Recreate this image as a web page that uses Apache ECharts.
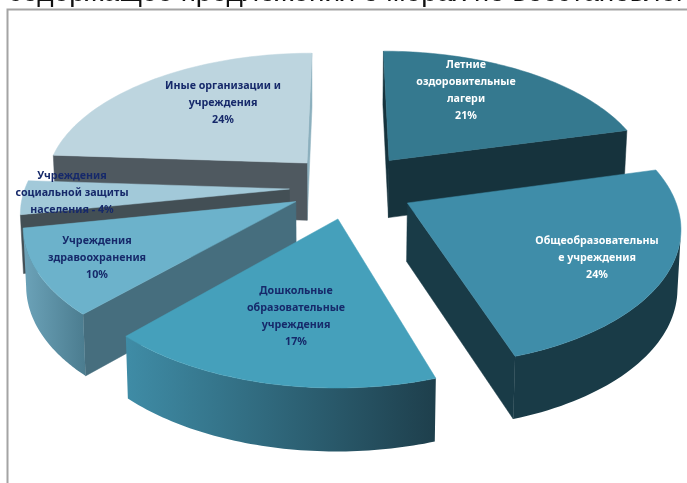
<!DOCTYPE html>
<html><head><meta charset="utf-8">
<style>html,body{margin:0;padding:0;background:#fff;overflow:hidden}#c{width:687px;height:483px}</style>
<script src="https://cdn.jsdelivr.net/npm/echarts@6/dist/echarts.min.js"></script>
</head><body><div id="c"></div>
<script>
// ---- data ----
const categories = ['Летние оздоровительные лагери','Общеобразовательные учреждения','Дошкольные образовательные учреждения','Учреждения здравоохранения','Учреждения социальной защиты населения','Иные организации и учреждения'];
const values = [21,24,17,10,4,24];
const labelLines = [
  ['Летние','оздоровительные','лагери','21%'],
  ['Общеобразовательны','е учреждения','24%'],
  ['Дошкольные','образовательные','учреждения','17%'],
  ['Учреждения','здравоохранения','10%'],
  ['Учреждения','социальной защиты','населения - 4%'],
  ['Иные организации и','учреждения','24%']
];
const headline = 'содержащее предложения о мерах по восстановлению';

// ---- view / style (not data) ----
const view = {cx:345, cy:187, rx:264, ry:133, persp:0.15, depth:58, depthPersp:0.07, lean:0.01, leanX:330};
const explode = [[.172,.206],[.232,-.118],[-.026,-.232],[-.183,-.108],[-.21,-.015],[-.148,.185]];
const topColor  = ['#35798F','#3F8DA9','#45A0BB','#6CB2CB','#A2C9D9','#BDD5DF'];
const startWall = ['#16333D','#193B47','#1E4452','#466E7E','#434F55','#4F5960'];
const endWall   = ['#16333D','#193B47','#1E4452','#466E7E','#434F55','#8CB0BE'];
const sideStops = [['#16333D','#16333D'],['#193B47','#193B47'],['#3F8CA6','#1E3F4C'],['#6CA3B9','#4B7C8F'],['#7FAEC0','#7FAEC0'],['#8FB4C2','#8FB4C2']];
const labelCenter = [[466,90],[597,258],[296,316],[97,258],[72,193],[223,103]];
const labelColor = ['#FFFFFF','#FFFFFF','#16296A','#16296A','#16296A','#16296A'];

function proj(X,Y,down){
  const w = 1 + view.persp*Y;
  let sx = view.cx + view.rx*X/w;
  let sy = view.cy - view.ry*Y/w;
  if(down){ sy += view.depth/(1+view.depthPersp*Y); sx -= (sx-view.leanX)*view.lean; }
  return [sx,sy];
}
const total = values.reduce((a,b)=>a+b,0);
let acc = 0;
const spans = values.map(v=>{const s=acc/total*2*Math.PI; acc+=v; return [s,acc/total*2*Math.PI];});

function sliceShapes(i){
  const [a0,a1] = spans[i], [ex,ey] = explode[i];
  const P = (t)=>[ex+Math.sin(t), ey+Math.cos(t)];
  const n = 60, arc = [];
  for(let k=0;k<=n;k++) arc.push(a0+(a1-a0)*k/n);
  const kids = [];
  const vx=-ex, vy=-1/view.persp-ey;
  const wall = (t,sgn,col)=>{
    const nx = sgn*Math.cos(t), ny = -sgn*Math.sin(t);
    if(nx*vx+ny*vy<=0) return;
    const p=P(t);
    const pts=[proj(ex,ey),proj(p[0],p[1]),proj(p[0],p[1],true),proj(ex,ey,true)];
    kids.push({type:'polygon',shape:{points:pts},style:{fill:col,stroke:col,lineWidth:.5}});
  };
  wall(a1,1,endWall[i]); wall(a0,-1,startWall[i]);
  // outer rim: only the segments whose screen x runs leftwards face the viewer
  let vis=[];
  for(let k=0;k<n;k++){
    const p=P(arc[k]),q=P(arc[k+1]);
    if(proj(q[0],q[1])[0]<proj(p[0],p[1])[0]){ if(!vis.length) vis.push(arc[k]); vis.push(arc[k+1]); }
  }
  if(vis.length>1){
    const up=vis.map(t=>{const p=P(t);return proj(p[0],p[1]);});
    const dn=vis.map(t=>{const p=P(t);return proj(p[0],p[1],true);}).reverse();
    const s=sideStops[i];
    kids.push({type:'polygon',shape:{points:up.concat(dn)},style:{
      fill:new echarts.graphic.LinearGradient(0,0,1,0,[{offset:0,color:s[0]},{offset:1,color:s[1]}]),
      stroke:null}});
  }
  const topPts=[proj(ex,ey)].concat(arc.map(t=>{const p=P(t);return proj(p[0],p[1]);}));
  kids.push({type:'polygon',shape:{points:topPts},style:{fill:topColor[i],stroke:topColor[i],lineWidth:.5}});
  return kids;
}
// far slices paint first
const order = values.map((_,i)=>i).sort((a,b)=>explode[b][1]-explode[a][1]);

const chart = echarts.init(document.getElementById('c'),null,{renderer:'canvas'});
chart.setOption({
  animation:false,
  backgroundColor:'#fff',
  graphic:[
    {type:'rect',z:0,shape:{x:7.5,y:9.5,width:720,height:520},style:{fill:'#fff',stroke:'#A4A4A4',lineWidth:2}},
    {type:'text',z:1,x:8,y:-20.5,style:{text:headline,font:'28px "Liberation Sans"',fill:'#111'}}
  ],
  series:[
    {type:'custom',coordinateSystem:'none',silent:true,z:2,
     data:order.map(i=>[i,values[i]]),
     renderItem:(p,api)=>({type:'group',children:sliceShapes(api.value(0))})},
    {type:'custom',coordinateSystem:'none',silent:true,z:3,
     data:order.map(i=>[i,values[i]]),
     renderItem:(p,api)=>{
       const i=api.value(0),c=labelCenter[i];
       return {type:'text',x:c[0],y:c[1],style:{text:labelLines[i].join('\n'),x:0,y:0,
         font:'bold 10.7px "Noto Sans"',lineHeight:17,fill:labelColor[i],align:'center',verticalAlign:'middle'}};
     }}
  ]
});
</script></body></html>
